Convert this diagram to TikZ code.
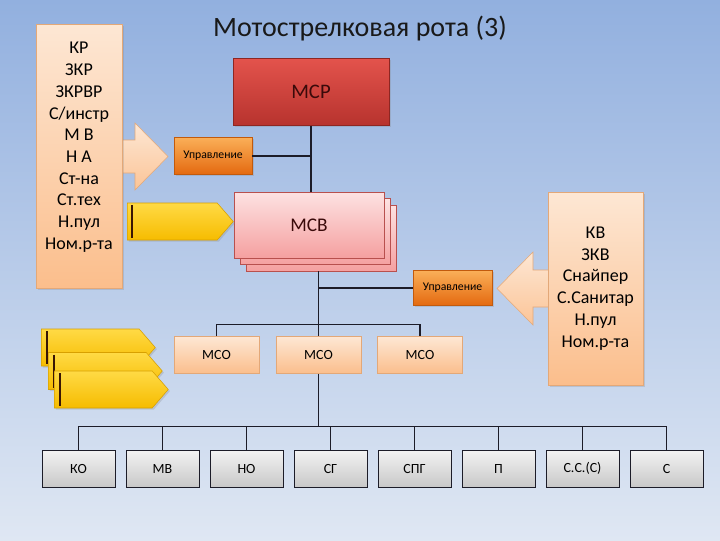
\documentclass[tikz,border=0pt]{standalone}
\usepackage{fontspec}
\setmainfont{Carlito}
\usetikzlibrary{shapes.symbols,shadows,backgrounds}

\definecolor{skytop}{HTML}{92B0DF}
\definecolor{skybot}{HTML}{DFE7F3}
\definecolor{peachtop}{HTML}{FDE7D4}
\definecolor{peachbot}{HTML}{FBBE8C}
\definecolor{peachline}{HTML}{E3A878}
\definecolor{redtop}{HTML}{E3534C}
\definecolor{redbot}{HTML}{B7332E}
\definecolor{redline}{HTML}{8E2622}
\definecolor{pinktop}{HTML}{FDE2E2}
\definecolor{pinkbot}{HTML}{F5A0A0}
\definecolor{pinkline}{HTML}{B8504E}
\definecolor{orgtop}{HTML}{FAAF58}
\definecolor{orgbot}{HTML}{E4690F}
\definecolor{orgline}{HTML}{C25A0C}
\definecolor{greytop}{HTML}{F3F3F3}
\definecolor{greybot}{HTML}{C8C8C8}
\definecolor{goldtop}{HTML}{FFDA45}
\definecolor{goldbot}{HTML}{F6BC00}
\definecolor{goldline}{HTML}{D8A000}
\definecolor{barbrown}{HTML}{3A1604}
\definecolor{inkline}{HTML}{1C1C28}
\definecolor{darkred}{HTML}{3A0A0A}

\newcommand\pxu{0.75pt}

\begin{document}
\begin{tikzpicture}[
  x=0.75pt, y=-0.75pt,
  shade/.style={drop shadow={shadow xshift=1.2pt, shadow yshift=-1.2pt, opacity=0.25}},
  lst/.style={draw=peachline, top color=peachtop, bottom color=peachbot, shade},
  lsttxt/.style={align=center, inner sep=0pt, font=\fontsize{13.5}{16.3}\selectfont},
  msr/.style={draw=redline, top color=redtop, bottom color=redbot, shade, text=darkred,
    font=\fontsize{15.5}{17}\selectfont, minimum width=156*\pxu, minimum height=67*\pxu},
  msv/.style={draw=pinkline, top color=pinktop, bottom color=pinkbot, text=darkred,
    font=\fontsize{14.5}{16}\selectfont, minimum width=150*\pxu, minimum height=66*\pxu},
  upr/.style={draw=orgline, top color=orgtop, bottom color=orgbot, shade,
    font=\fontsize{8.8}{10}\selectfont, minimum width=78*\pxu, minimum height=37*\pxu},
  mso/.style={draw=peachline, top color=peachtop, bottom color=peachbot,
    font=\fontsize{10.5}{12}\selectfont, minimum width=85*\pxu, minimum height=37*\pxu},
  sub/.style={draw=inkline, top color=greytop, bottom color=greybot,
    font=\fontsize{10.5}{12}\selectfont, minimum width=73*\pxu, minimum height=37*\pxu},
  flag/.style={signal, signal to=east, signal pointer angle=98, draw=goldline,
    top color=goldtop, bottom color=goldbot, shade, inner sep=0pt, anchor=west,
    minimum width=114*\pxu, minimum height=37*\pxu},
  flagbar/.style={draw=barbrown, line width=1.8pt},
  bigarr/.style={draw=peachline, top color=peachtop, bottom color=peachbot!85!peachtop},
  link/.style={draw=inkline, line width=0.9pt}
]
\begin{scope}[on background layer]
\shade[top color=skytop, bottom color=skybot] (0,0) rectangle (720,540);
\end{scope}
\useasboundingbox (0,0) rectangle (720,540);

\node[anchor=base, font=\fontsize{21}{24}\selectfont, text=black!90] (ttl) at (360,36) {Мотострелковая рота (3)};

% block arrows
\path[bigarr] (112,140) -- (135,140) -- (135,123) -- (168,156.5) -- (135,190) -- (135,173) -- (112,173) -- cycle;
\path[bigarr] (556,270) -- (533,270) -- (533,252) -- (497,288.5) -- (533,325) -- (533,307) -- (556,307) -- cycle;

% lists
\node[lst, minimum width=86*\pxu, minimum height=264*\pxu] (kr) at (79,156) {};
\node[lsttxt, anchor=north] (krtxt) at (79,42) {КР\\ЗКР\\ЗКРВР\\С/инстр\\М В\\Н А\\Ст-на\\Ст.тех\\Н.пул\\Ном.р-та};
\node[lst, lsttxt, minimum width=95*\pxu, minimum height=193*\pxu] (kv) at (595.5,288.5) {КВ\\ЗКВ\\Снайпер\\С.Санитар\\Н.пул\\Ном.р-та};

% command
\node[msr] (msr) at (311,92) {МСР};
\node[upr] (upr1) at (213,156) {Управление};
\node[msv] (msv3) at (321,238) {};
\node[msv] (msv2) at (315,231.5) {};
\node[msv] (msv) at (309,225) {МСВ};
\node[upr, minimum width=79*\pxu, minimum height=35*\pxu] (upr2) at (452.5,288) {Управление};

% yellow flags
\node[flag, minimum width=106*\pxu] (fmsv) at (127,221.5) {};
\draw[flagbar] ([shift={(5,-16.5)}]fmsv.west) -- ([shift={(5,16.5)}]fmsv.west);
\foreach \i/\fx/\fy in {1/41/347.5, 2/48/371, 3/54/389.5} {
  \node[flag] (fmso\i) at (\fx,\fy) {};
  \draw[flagbar] ([shift={(6,-16.5)}]fmso\i.west) -- ([shift={(6,16.5)}]fmso\i.west);
}

% squads
\node[mso] (mso1) at (216.5,355) {МСО};
\node[mso] (mso2) at (318.5,355) {МСО};
\node[mso] (mso3) at (420,355) {МСО};

% attached
\foreach \nm/\txt [count=\i from 0] in {ko/КО, mv/МВ, no/НО, sg/СГ, spg/СПГ, p/П, ssc/С.С.(С), s/С}
  \node[sub] (\nm) at ({78.5+84*\i},468.5) {\txt};

% links
\draw[link] (msr.south) -- (msr.south |- msv.north);
\draw[link] (upr1.east) -- (upr1.east -| msr.south);
\draw[link] (mso2.north |- msv3.south) -- (mso2.north);
\draw[link] (upr2.west) -- (upr2.west -| mso2.north);
\draw[link] (mso1.north) -- ++(0,-12) -| (mso3.north);
\draw[link] (ko.north) -- ++(0,-23) coordinate (bus) -| (s.north);
\foreach \nm in {mv,no,sg,spg,p,ssc}
  \draw[link] (\nm.north) -- (\nm.north |- bus);
\draw[link] (mso2.south) -- (mso2.south |- bus);
\end{tikzpicture}
\end{document}
